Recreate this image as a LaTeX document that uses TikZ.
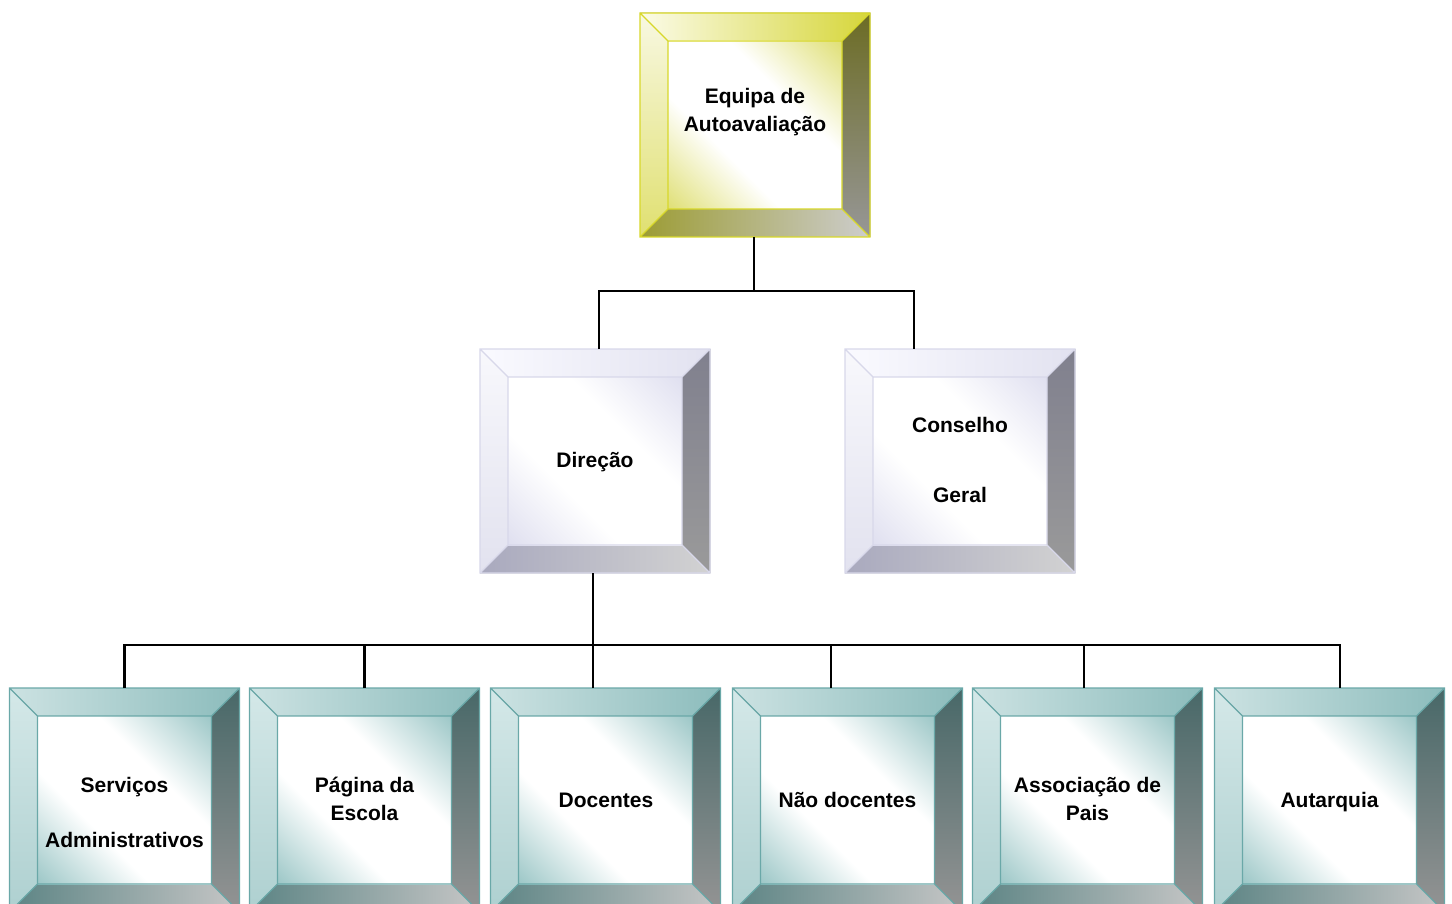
\documentclass[tikz,border=0pt]{standalone}
\usepackage{fontspec}
\setmainfont{Liberation Sans}
\usetikzlibrary{calc,backgrounds}
% colour schemes: Y yellow, L lavender, T teal
\definecolor{Y-tl}{HTML}{FBFBE8}\definecolor{Y-tr}{HTML}{D6D63A}
\definecolor{Y-lt}{HTML}{F8F8E2}\definecolor{Y-lb}{HTML}{E0E070}
\definecolor{Y-rt}{HTML}{6C6C24}\definecolor{Y-rb}{HTML}{979797}
\definecolor{Y-bl}{HTML}{9C9C34}\definecolor{Y-br}{HTML}{CDCDCD}
\definecolor{Y-in}{HTML}{E0E078}\definecolor{Y-bd}{HTML}{D8D82A}
\definecolor{L-tl}{HTML}{FAFAFF}\definecolor{L-tr}{HTML}{E2E2F0}
\definecolor{L-lt}{HTML}{F8F8FC}\definecolor{L-lb}{HTML}{E2E2EF}
\definecolor{L-rt}{HTML}{80808E}\definecolor{L-rb}{HTML}{9A9A9A}
\definecolor{L-bl}{HTML}{A9A9BE}\definecolor{L-br}{HTML}{D2D2D2}
\definecolor{L-in}{HTML}{E0E0F0}\definecolor{L-bd}{HTML}{D8D8EA}
\definecolor{T-tl}{HTML}{CCE2E2}\definecolor{T-tr}{HTML}{8CBCBC}
\definecolor{T-lt}{HTML}{D4E8E8}\definecolor{T-lb}{HTML}{AED0D0}
\definecolor{T-rt}{HTML}{486868}\definecolor{T-rb}{HTML}{949494}
\definecolor{T-bl}{HTML}{5C8484}\definecolor{T-br}{HTML}{C6C6C6}
\definecolor{T-in}{HTML}{9EC8C8}\definecolor{T-bd}{HTML}{6AA8A8}
\pgfdeclarehorizontalshading{Y-inner}{100bp}{color(0bp)=(Y-in); color(15bp)=(Y-in); color(38bp)=(white); color(62bp)=(white); color(85bp)=(Y-in); color(100bp)=(Y-in)}
\pgfdeclarehorizontalshading{L-inner}{100bp}{color(0bp)=(L-in); color(15bp)=(L-in); color(38bp)=(white); color(62bp)=(white); color(85bp)=(L-in); color(100bp)=(L-in)}
\pgfdeclarehorizontalshading{T-inner}{100bp}{color(0bp)=(T-in); color(15bp)=(T-in); color(38bp)=(white); color(62bp)=(white); color(85bp)=(T-in); color(100bp)=(T-in)}
\newcommand\bevelbox[2]{%
  \coordinate (#1-nw) at ($(#1.north west)+(28,28)$);
  \coordinate (#1-ne) at ($(#1.north east)+(-28,28)$);
  \coordinate (#1-sw) at ($(#1.south west)+(28,-28)$);
  \coordinate (#1-se) at ($(#1.south east)+(-28,-28)$);
  \fill[left color=#2-tl, right color=#2-tr] (#1.north west) -- (#1.north east) -- (#1-ne) -- (#1-nw) -- cycle;
  \fill[top color=#2-lt, bottom color=#2-lb] (#1.north west) -- (#1-nw) -- (#1-sw) -- (#1.south west) -- cycle;
  \fill[top color=#2-rt, bottom color=#2-rb] (#1.north east) -- (#1.south east) -- (#1-se) -- (#1-ne) -- cycle;
  \fill[left color=#2-bl, right color=#2-br] (#1.south west) -- (#1-sw) -- (#1-se) -- (#1.south east) -- cycle;
  \fill[shading=#2-inner, shading angle=45] (#1-nw) rectangle (#1-se);
  \draw[#2-bd, line width=1.2pt] (#1.north west) rectangle (#1.south east)
     (#1-nw) rectangle (#1-se)
     (#1.north west) -- (#1-nw) (#1.north east) -- (#1-ne)
     (#1.south west) -- (#1-sw) (#1.south east) -- (#1-se);
}
\tikzset{
  boxnode/.style={minimum width=230pt, minimum height=224pt, inner sep=0pt, outer sep=0pt},
  label/.style={font=\fontsize{21}{28.5}\selectfont\bfseries, align=center, inner sep=0pt},
  conn/.style={line width=2.3pt, black}
}
\begin{document}
\begin{tikzpicture}[x=1pt, y=-1pt]
\fill[white] (0,0) rectangle (1452,904);
\useasboundingbox (0,0) rectangle (1452,904);
% boxes
\node[boxnode] (eq) at (755,125) {};
\node[boxnode] (dir) at (595,461) {};
\node[boxnode] (cg) at (960,461) {};
\node[boxnode] (sa) at (124.5,800) {};
\node[boxnode] (pe) at (364.5,800) {};
\node[boxnode] (do) at (605.5,800) {};
\node[boxnode] (nd) at (847.5,800) {};
\node[boxnode] (ap) at (1087.5,800) {};
\node[boxnode] (au) at (1329.5,800) {};
\bevelbox{eq}{Y}
\bevelbox{dir}{L}
\bevelbox{cg}{L}
\bevelbox{sa}{T}
\bevelbox{pe}{T}
\bevelbox{do}{T}
\bevelbox{nd}{T}
\bevelbox{ap}{T}
\bevelbox{au}{T}
% labels
\node[label] (eq-t) at (755,112) {Equipa de\\Autoavaliação};
\node[label] (dir-t) at (595,462) {Direção};
\node[label] (cg-t) at (960,460) {Conselho\\[41.5pt]Geral};
\node[label] (sa-t) at (124.5,812) {Serviços\\[26.5pt]Administrativos};
\node[label] (pe-t) at (364.5,799) {Página da\\Escola};
\node[label] (do-t) at (606,800) {Docentes};
\node[label] (nd-t) at (847.5,800) {Não docentes};
\node[label] (ap-t) at (1087.5,799) {Associação de\\Pais};
\node[label] (au-t) at (1329.5,802) {Autarquia};
% connectors
\draw[conn] ([xshift=-1pt]eq.south) -- ++(0,54) coordinate (b1);
\draw[conn] ([xshift=4pt]dir.north) |- (b1) -| ([xshift=-46pt]cg.north);
\draw[conn] ([xshift=-2pt]dir.south) -- ++(0,72) coordinate (b2);
\draw[conn] (sa.north) |- (b2);
\draw[conn] (pe.north) |- (b2);
\draw[conn] ([xshift=-12.5pt]do.north) |- (b2);
\draw[conn] ([xshift=-16.5pt]nd.north) |- (b2);
\draw[conn] ([xshift=-3.5pt]ap.north) |- (b2);
\draw[conn] ([xshift=10.5pt]au.north) |- (b2);
\end{tikzpicture}
\end{document}
